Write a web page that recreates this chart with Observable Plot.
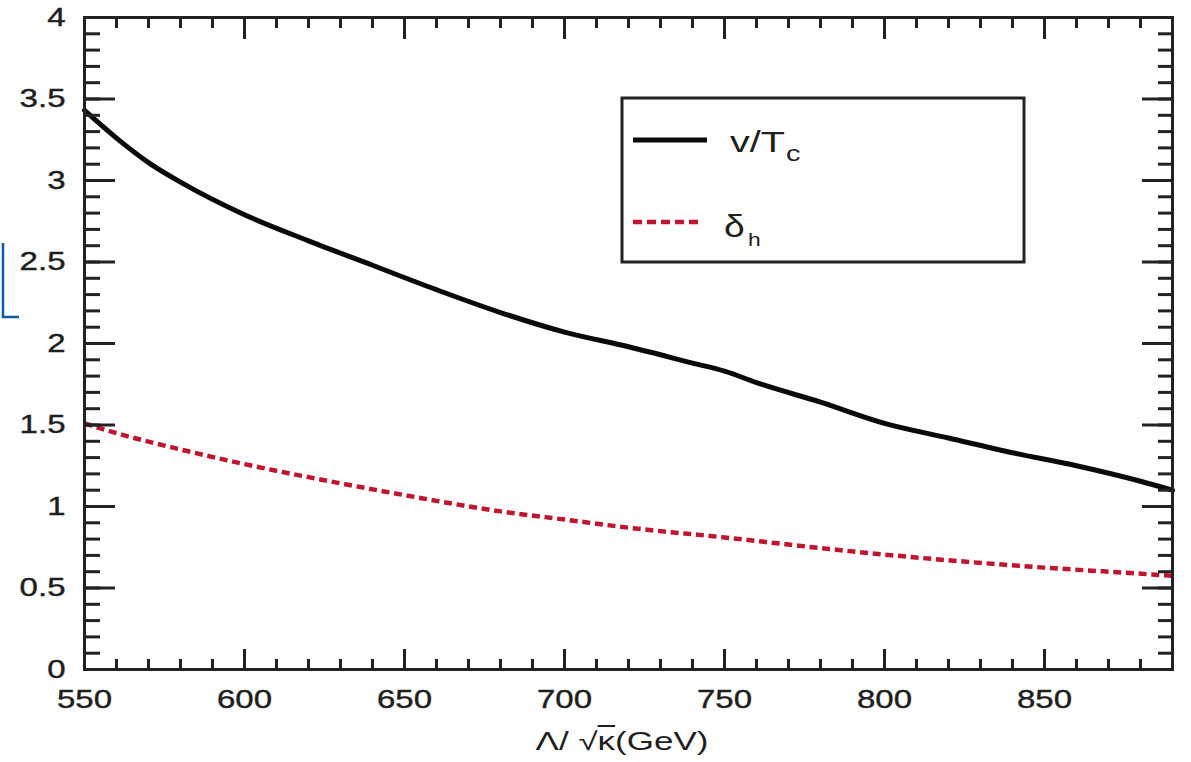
<!DOCTYPE html>
<html><head><meta charset="utf-8">
<script src="https://cdn.jsdelivr.net/npm/d3@7"></script>
<script src="https://cdn.jsdelivr.net/npm/@observablehq/plot@0.6"></script>
<style>
body{margin:0;background:#fff;}
#wrap{position:relative;width:1191px;height:762px;overflow:hidden;font-family:"Liberation Sans",Arial,sans-serif;}
#wrap > svg{position:absolute;left:0;top:0;}
#xlabel{position:absolute;left:622px;top:729px;font-size:25px;line-height:1;color:#1e1e1e;white-space:nowrap;transform:translateX(-50%) scaleX(1.4);transform-origin:50% 50%;}
</style></head><body><div id="wrap"></div>
<script>
// v/T_c curve
const lambdaV = [550,560,570,580,600,620,640,660,680,700,720,740,750,760,780,800,820,840,860,880,890];
const vOverTc = [3.43,3.26,3.11,2.99,2.79,2.63,2.48,2.33,2.19,2.07,1.98,1.88,1.83,1.76,1.64,1.51,1.42,1.33,1.25,1.155,1.10];
// delta_h curve
const lambdaD = [550,560,580,600,620,650,680,700,720,750,780,800,820,850,870,890];
const deltaH = [1.51,1.45,1.35,1.26,1.18,1.07,0.97,0.92,0.87,0.81,0.745,0.705,0.67,0.625,0.60,0.575];
// ticks
const xMajor = [550,600,650,700,750,800,850];
const xMinor = d3.range(550, 891, 10);
const yMajor = [0,0.5,1,1.5,2,2.5,3,3.5,4];
const yMinor = d3.range(0, 41, 1).map(d => d / 10);

const W = 1191, H = 762;
const mL = 84, mT = 17, mR = 19, mB = 93;
const PW = W - mL - mR, PH = H - mT - mB;
const ink = "#222";

const vData = lambdaV.map((x, i) => ({x, y: vOverTc[i]}));
const dData = lambdaD.map((x, i) => ({x, y: deltaH[i]}));

const svg = Plot.plot({
  width: W, height: H,
  marginLeft: mL, marginTop: mT, marginRight: mR, marginBottom: mB,
  style: {fontFamily: "Liberation Sans, Arial, sans-serif", color: "#1e1e1e", background: "transparent"},
  x: {domain: [550, 890]},
  y: {domain: [0, 4]},
  marks: [
    Plot.line(dData, {x: "x", y: "y", stroke: "#c0142f", strokeWidth: 4.5, strokeDasharray: "8,4.7", strokeLinecap: "butt", curve: "monotone-x"}),
    Plot.line(vData, {x: "x", y: "y", stroke: "#0a0a0a", strokeWidth: 5, curve: "monotone-x"}),
    // bottom ticks
    Plot.tickX(xMinor, {x: d => d, insetTop: PH - 10, stroke: ink, strokeWidth: 3}),
    Plot.tickX(xMajor, {x: d => d, insetTop: PH - 20, stroke: ink, strokeWidth: 3}),
    // top ticks
    Plot.tickX(xMinor, {x: d => d, insetBottom: PH - 11, stroke: ink, strokeWidth: 3}),
    Plot.tickX(xMajor, {x: d => d, insetBottom: PH - 22, stroke: ink, strokeWidth: 3}),
    // left ticks
    Plot.tickY(yMinor, {y: d => d, insetRight: PW - 16, stroke: ink, strokeWidth: 3}),
    Plot.tickY(yMajor, {y: d => d, insetRight: PW - 31, stroke: ink, strokeWidth: 3}),
    // right ticks
    Plot.tickY(yMinor, {y: d => d, insetLeft: PW - 14, stroke: ink, strokeWidth: 3}),
    Plot.tickY(yMajor, {y: d => d, insetLeft: PW - 30, stroke: ink, strokeWidth: 3}),
    Plot.frame({stroke: ink, strokeWidth: 3}),
    Plot.axisX({ticks: xMajor, tickSize: 0, tickPadding: 20, fontSize: 26, label: null, tickFormat: d => String(d)}),
    Plot.axisY({ticks: yMajor, tickSize: 0, tickPadding: 19, fontSize: 26, label: null, tickFormat: d => String(d)})
  ]
});

// widen tick label glyphs like the reference
svg.querySelectorAll('g[aria-label$="tick label"] text').forEach(t => {
  const tr = t.getAttribute("transform") || "";
  t.setAttribute("transform", tr + " scale(1.27,1)");
  t.setAttribute("stroke", "#1e1e1e");
  t.setAttribute("stroke-width", "0.4");
});

const wrap = document.getElementById("wrap");
wrap.appendChild(svg);

// legend + decoration overlay
const ns = "http://www.w3.org/2000/svg";
const ov = document.createElementNS(ns, "svg");
ov.setAttribute("width", W); ov.setAttribute("height", H);
ov.innerHTML = `
  <rect x="622" y="98" width="402" height="164" fill="#fff" stroke="${ink}" stroke-width="3"/>
  <line x1="633" y1="140" x2="707" y2="140" stroke="#0a0a0a" stroke-width="5"/>
  <line x1="633" y1="222" x2="701" y2="222" stroke="#c0142f" stroke-width="4.5" stroke-dasharray="9,5"/>
  <g font-family="Liberation Sans, Arial, sans-serif" fill="#1e1e1e">
    <text transform="translate(730,152) scale(1.32,1)" font-size="30">v/T</text>
    <text transform="translate(786,161) scale(1.32,1)" font-size="22">c</text>
    <text transform="translate(724,237) scale(1.2,1)" font-size="31">δ</text>
    <text transform="translate(748,246) scale(1.2,1)" font-size="19">h</text>
  </g>
  <path d="M3,243 L3,317 L19,317" fill="none" stroke="#0b5cad" stroke-width="2.5"/>
`;
wrap.appendChild(ov);

const xl = document.createElement("div");
xl.id = "xlabel";
xl.innerHTML = 'Λ/ √<span style="text-decoration:overline">κ</span>(GeV)';
wrap.appendChild(xl);
</script>
</body></html>
